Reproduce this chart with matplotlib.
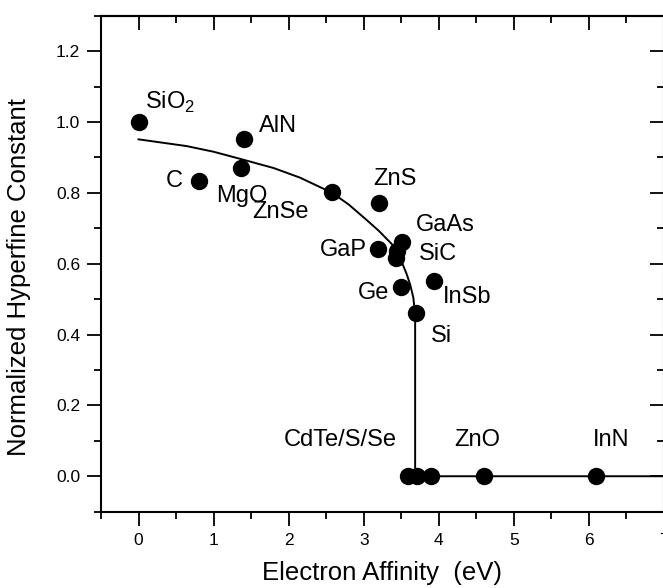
import matplotlib
matplotlib.use("Agg")
import matplotlib.pyplot as plt
from matplotlib.ticker import MultipleLocator, FormatStrFormatter

plt.rcParams["font.family"] = ["Liberation Sans", "DejaVu Sans"]
plt.rcParams["mathtext.fontset"] = "custom"
plt.rcParams["mathtext.rm"] = "Liberation Sans"

# measured points (electron affinity, normalized hyperfine constant)
materials = ["SiO2", "C", "MgO", "AlN", "ZnSe", "ZnS", "GaP", "GaAs", "SiC", "SiC",
             "Ge", "InSb", "Si", "CdTe", "CdS", "CdSe", "ZnO", "InN"]
affinity = [0.0, 0.8, 1.36, 1.40, 2.58, 3.20, 3.19, 3.51, 3.44, 3.43,
            3.50, 3.94, 3.69, 3.59, 3.71, 3.90, 4.60, 6.10]
hyperfine = [1.0, 0.832, 0.871, 0.951, 0.802, 0.772, 0.642, 0.662, 0.636, 0.615,
             0.535, 0.551, 0.462, 0.0, 0.0, 0.0, 0.0, 0.0]

# guide curve
curve_x = [0.0, 0.64, 1.0, 1.37, 1.8, 2.15, 2.58, 2.8, 3.03, 3.2, 3.39, 3.48,
           3.57, 3.62, 3.66, 3.685, 3.685, 7.3]
curve_y = [0.951, 0.932, 0.916, 0.895, 0.870, 0.843, 0.800, 0.767, 0.725, 0.693,
           0.652, 0.618, 0.572, 0.540, 0.505, 0.46, 0.0, 0.0]

# label text and where it sits
label_text = ["SiO$_2$", "AlN", "C", "MgO", "ZnSe", "ZnS", "GaAs", "SiC", "GaP",
              "InSb", "Ge", "Si", "CdTe/S/Se", "ZnO", "InN"]
label_x = [0.09, 1.60, 0.36, 1.04, 1.51, 3.13, 3.70, 3.73, 2.42,
           4.05, 2.92, 3.89, 1.93, 4.21, 6.05]
label_y = [1.055, 0.99, 0.832, 0.79, 0.747, 0.84, 0.71, 0.628, 0.64,
           0.507, 0.518, 0.397, 0.103, 0.103, 0.103]

fig = plt.figure(figsize=(6.63, 5.88), dpi=100)
ax = fig.add_axes([0.1523, 0.1298, 0.8492, 0.8435])

ax.plot(curve_x, curve_y, color="black", lw=1.4, zorder=2)
ax.plot(affinity, hyperfine, "o", color="black", ms=11.5, zorder=3)

for t, x, y in zip(label_text, label_x, label_y):
    ax.text(x, y, t, fontsize=17, ha="left", va="center")

ax.set_xlim(-0.5, 7.0)
ax.set_ylim(-0.1, 1.3)

ax.xaxis.set_major_locator(MultipleLocator(1))
ax.xaxis.set_minor_locator(MultipleLocator(0.5))
ax.yaxis.set_major_locator(MultipleLocator(0.2))
ax.yaxis.set_minor_locator(MultipleLocator(0.1))
ax.yaxis.set_major_formatter(FormatStrFormatter("%.1f"))
ax.set_yticks([0.0, 0.2, 0.4, 0.6, 0.8, 1.0, 1.2])
ax.set_xticks(range(0, 8))

ax.tick_params(which="both", direction="out", width=1.3, labelsize=12.5, pad=5)
ax.tick_params(which="major", length=10)
ax.tick_params(which="minor", length=5)
for s in ax.spines.values():
    s.set_linewidth(1.5)

# mirrored ticks pointing inward on top and right
top = ax.secondary_xaxis("top")
top.xaxis.set_major_locator(MultipleLocator(1))
top.xaxis.set_minor_locator(MultipleLocator(0.5))
top.tick_params(which="both", direction="in", width=1.3, labeltop=False)
top.tick_params(which="major", length=10)
top.tick_params(which="minor", length=5)
top.spines["top"].set_linewidth(1.5)

right = ax.secondary_yaxis("right")
right.yaxis.set_major_locator(MultipleLocator(0.2))
right.yaxis.set_minor_locator(MultipleLocator(0.1))
right.tick_params(which="both", direction="in", width=1.3, labelright=False)
right.tick_params(which="major", length=10)
right.tick_params(which="minor", length=5)

ax.set_xlabel("Electron Affinity  (eV)", fontsize=18.5, labelpad=10)
ax.set_ylabel("Normalized Hyperfine Constant", fontsize=18.5)
ax.yaxis.set_label_coords(-0.125, 0.473)

fig.savefig("out.png", dpi=100)
